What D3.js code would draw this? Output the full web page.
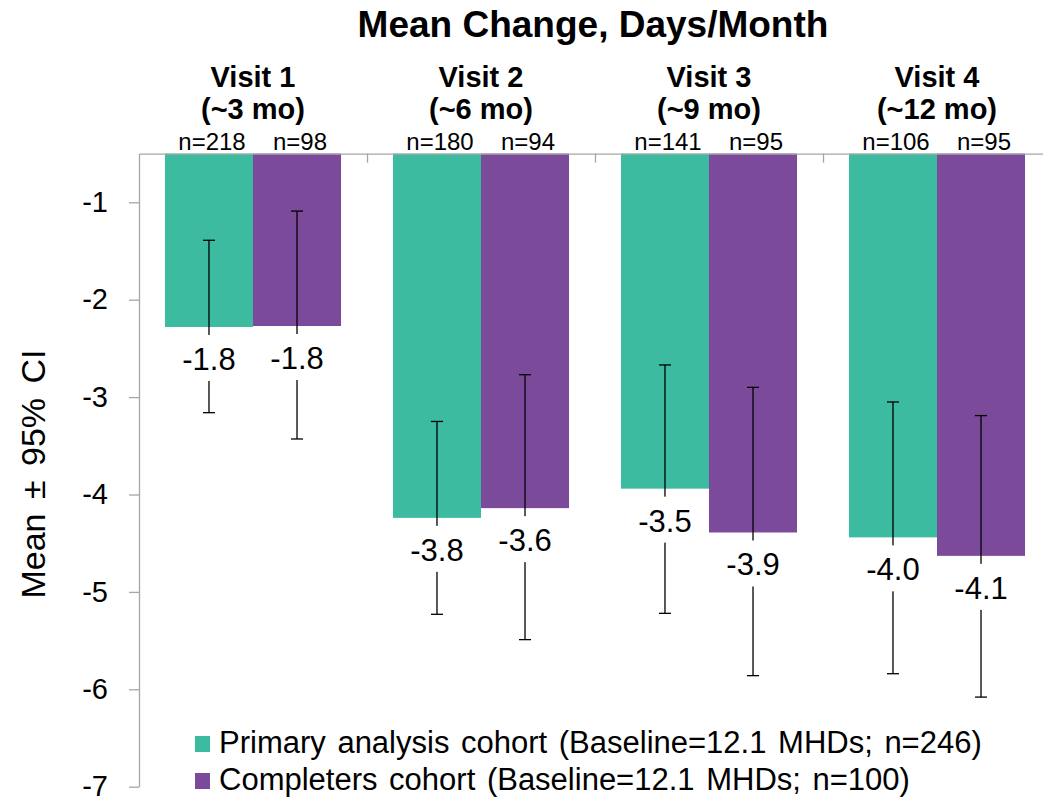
<!DOCTYPE html>
<html>
<head>
<meta charset="utf-8">
<script src="https://cdn.jsdelivr.net/npm/d3@7"></script>
<style>
	body { margin: 0; background: #fff; }
	svg { display: block; font-family: "Liberation Sans", Arial, sans-serif; }
</style>
</head>
<body>
<div id="chart"></div>
<script>
// Data
const visits = ["Visit 1", "Visit 2", "Visit 3", "Visit 4"];
const visitPeriods = ["(~3 mo)", "(~6 mo)", "(~9 mo)", "(~12 mo)"];
const cohorts = ["primary", "completers"];
const cohortNames = [
	"Primary analysis cohort (Baseline=12.1 MHDs; n=246)",
	"Completers cohort (Baseline=12.1 MHDs; n=100)"
];
const primaryMean = [-2.28, -4.24, -3.94, -4.44];
const primaryLow = [-3.16, -5.23, -5.22, -5.84];
const primaryHigh = [-1.39, -3.25, -2.67, -3.05];
const primaryLabels = ["-1.8", "-3.8", "-3.5", "-4.0"];
const primaryN = [218, 180, 141, 106];
const completersMean = [-2.27, -4.14, -4.39, -4.63];
const completersLow = [-3.43, -5.49, -5.86, -6.08];
const completersHigh = [-1.09, -2.77, -2.90, -3.19];
const completersLabels = ["-1.8", "-3.6", "-3.9", "-4.1"];
const completersN = [98, 94, 95, 95];
const yTicks = [-1, -2, -3, -4, -5, -6, -7];
const yDomain = [-0.5, -7];

const colors = { primary: "#3cbba0", completers: "#7b4a9b" };
const axisColor = "#a6a6a6";

// flat rows built from the arrays
let rows = [];
visits.forEach((v, i) => {
	rows.push({ visit: v, cohort: "primary", mean: primaryMean[i], low: primaryLow[i],
		high: primaryHigh[i], label: primaryLabels[i], n: primaryN[i] });
	rows.push({ visit: v, cohort: "completers", mean: completersMean[i], low: completersLow[i],
		high: completersHigh[i], label: completersLabels[i], n: completersN[i] });
});

const width = 1043, height = 799;
const plotLeft = 139, plotRight = 1051, plotTop = 153.6, plotBottom = 786.7;

const svg = d3.select("#chart").append("svg")
	.attr("width", width).attr("height", height);

const scaleX = d3.scaleBand(visits, [plotLeft, plotRight]);
const scaleInner = d3.scaleBand(cohorts, [0, scaleX.bandwidth()]).paddingOuter(0.295);
const scaleY = d3.scaleLinear(yDomain, [plotTop, plotBottom]);

const barX = (d) => scaleX(d.visit) + scaleInner(d.cohort);
const barMid = (d) => barX(d) + scaleInner.bandwidth() / 2;

// Bars hang from the top of the axis
svg.append("g").selectAll("rect")
	.data(rows)
	.join("rect")
	.attr("x", barX)
	.attr("y", scaleY(yDomain[0]))
	.attr("width", scaleInner.bandwidth())
	.attr("height", (d) => scaleY(d.mean) - scaleY(yDomain[0]))
	.attr("fill", (d) => colors[d.cohort]);

// Error bars
let err = svg.append("g").attr("stroke", "#000").attr("stroke-width", 1.3)
	.selectAll("g").data(rows).join("g");
err.append("line")
	.attr("x1", barMid).attr("x2", barMid)
	.attr("y1", (d) => scaleY(d.high)).attr("y2", (d) => scaleY(d.low));
err.append("line")
	.attr("x1", (d) => barMid(d) - 6).attr("x2", (d) => barMid(d) + 6)
	.attr("y1", (d) => scaleY(d.high)).attr("y2", (d) => scaleY(d.high));
err.append("line")
	.attr("x1", (d) => barMid(d) - 6).attr("x2", (d) => barMid(d) + 6)
	.attr("y1", (d) => scaleY(d.low)).attr("y2", (d) => scaleY(d.low));

// Value labels on a white box that breaks the error bar
let labels = svg.append("g").selectAll("g").data(rows).join("g")
	.attr("transform", (d) => `translate(${barMid(d)}, ${scaleY(d.mean)})`);
labels.append("rect")
	.attr("x", -30).attr("y", 8).attr("width", 60).attr("height", 46)
	.attr("fill", "#fff");
labels.append("text")
	.attr("y", 43)
	.attr("text-anchor", "middle")
	.style("font-size", "31px")
	.text((d) => d.label);

// Y axis
let axisY = svg.append("g")
	.attr("transform", `translate(${plotLeft}, 0)`)
	.call(d3.axisLeft(scaleY).tickValues(yTicks).tickFormat((d) => String(d))
		.tickSize(10).tickSizeOuter(0).tickPadding(21));
axisY.select(".domain").attr("stroke", axisColor).attr("stroke-width", 1.3);
axisY.selectAll(".tick line").attr("stroke", axisColor).attr("stroke-width", 1.3);
axisY.selectAll(".tick text").attr("fill", "#000")
	.style("font-size", "29px").style("font-family", "inherit");

// Top category axis, ticks point down between groups
let axisX = svg.append("g")
	.attr("transform", `translate(0, ${plotTop})`)
	.call(d3.axisBottom(d3.scalePoint(d3.range(visits.length + 1), [plotLeft, plotRight]))
		.tickSize(9).tickSizeOuter(0).tickFormat(""));
axisX.select(".domain").attr("stroke", axisColor).attr("stroke-width", 1.3);
axisX.selectAll(".tick line").attr("stroke", axisColor).attr("stroke-width", 1.3)
	.filter((d) => d === 0).remove();

// Visit headers
let heads = svg.append("g")
	.attr("text-anchor", "middle")
	.style("font-size", "29px").style("font-weight", "bold");
heads.selectAll("text.visit").data(visits).join("text")
	.classed("visit", true)
	.attr("x", (d) => scaleX(d) + scaleX.bandwidth() / 2)
	.attr("y", 87)
	.text((d) => d);
heads.selectAll("text.period").data(visitPeriods).join("text")
	.classed("period", true)
	.attr("x", (d, i) => scaleX(visits[i]) + scaleX.bandwidth() / 2)
	.attr("y", 119)
	.text((d) => d);

// n counts
svg.append("g").selectAll("text").data(rows).join("text")
	.attr("x", (d) => barMid(d) + 3)
	.attr("y", 150)
	.attr("text-anchor", "middle")
	.style("font-size", "24px")
	.text((d) => "n=" + d.n);

// Title
svg.append("text")
	.attr("x", 593).attr("y", 37)
	.attr("text-anchor", "middle")
	.style("font-size", "37px").style("font-weight", "bold")
	.text("Mean Change, Days/Month");

// Y label
svg.append("text")
	.attr("transform", "translate(45, 474) rotate(-90)")
	.attr("text-anchor", "middle")
	.style("font-size", "34px").style("word-spacing", "5px")
	.text("Mean \u00b1 95% CI");

// Legend
let legend = svg.append("g").selectAll("g").data(cohorts).join("g")
	.attr("transform", (d, i) => `translate(195, ${736 + i * 37})`);
legend.append("rect")
	.attr("width", 15).attr("height", 16)
	.attr("fill", (d) => colors[d]);
legend.append("text")
	.attr("x", 24).attr("y", 17)
	.style("font-size", "31px").style("word-spacing", "3px")
	.text((d, i) => cohortNames[i]);
</script>
</body>
</html>
